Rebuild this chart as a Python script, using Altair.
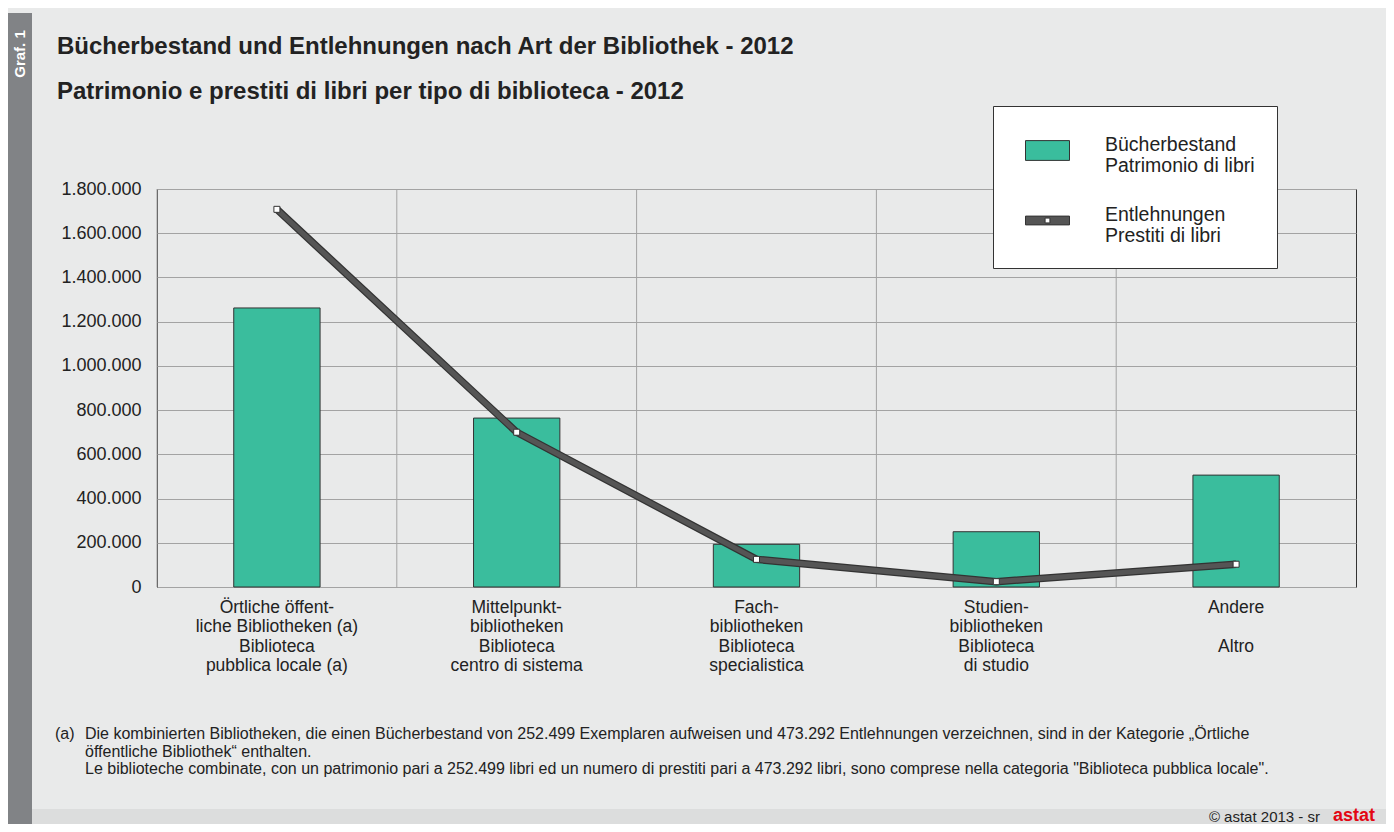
import altair as alt
import pandas as pd

# ---------------- data ----------------
categories = [
    "Örtliche öffent-|liche Bibliotheken (a)|Biblioteca|pubblica locale (a)",
    "Mittelpunkt-|bibliotheken|Biblioteca|centro di sistema",
    "Fach-|bibliotheken|Biblioteca|specialistica",
    "Studien-|bibliotheken|Biblioteca|di studio",
    "Andere|\u200b|Altro",
]
bestand = [1262000, 764000, 193000, 250000, 506000]
entlehnungen = [1708000, 700000, 125000, 24000, 103000]
y_ticks = [0, 200000, 400000, 600000, 800000, 1000000, 1200000, 1400000, 1600000, 1800000]
series_names = ["Bücherbestand|Patrimonio di libri", "Entlehnungen|Prestiti di libri"]

title_de = "Bücherbestand und Entlehnungen nach Art der Bibliothek - 2012"
title_it = "Patrimonio e prestiti di libri per tipo di biblioteca - 2012"
footnote_mark = "(a)"
footnote_lines = [
    "Die kombinierten Bibliotheken, die einen Bücherbestand von 252.499 Exemplaren aufweisen und 473.292 Entlehnungen verzeichnen, sind in der Kategorie „Örtliche",
    "öffentliche Bibliothek“ enthalten.",
    "Le biblioteche combinate, con un patrimonio pari a 252.499 libri ed un numero di prestiti pari a 473.292 libri, sono comprese nella categoria \"Biblioteca pubblica locale\".",
]
graf_label = "Graf. 1"
copyright_text = "©  astat 2013 - sr"
logo_text = "astat"

df = pd.DataFrame({"cat": categories, "bestand": bestand, "entl": entlehnungen})
df_legend = pd.DataFrame({"series": series_names, "v": [0, 0]})

FONT = "Liberation Sans"
TEAL = "#3abd9d"
DARK = "#333333"
LINEGRAY = "#555555"
GRID = "#a3a3a3"

x_scale = alt.Scale(domain=categories, paddingInner=0, paddingOuter=0)
y_scale = alt.Scale(domain=[0, 1800000], nice=False)

x_axis = alt.Axis(
    title=None, ticks=False, grid=False, domain=False, labelAngle=0,
    labelExpr="split(datum.label, '|')", labelFontSize=17.5, labelLineHeight=19.5,
    labelPadding=11, labelColor="#222", labelFont=FONT, labelAlign="center",
)
y_axis = alt.Axis(
    title=None, ticks=False, domain=False, values=y_ticks, grid=True,
    gridColor=GRID, gridWidth=1, labelFontSize=18, labelPadding=16,
    labelColor="#222", labelFont=FONT,
    labelExpr="replace(format(datum.value, ','), regexp(',', 'g'), '.')",
)

X = alt.X("cat:N", scale=x_scale, axis=x_axis, sort=categories)

base = alt.Chart(df)

vgrid = base.mark_rule(color=GRID, strokeWidth=1).encode(
    x=alt.X("cat:N", scale=x_scale, axis=x_axis, sort=categories, bandPosition=0)
)

bars = base.mark_bar(width={"band": 0.36}, fill=TEAL, stroke=DARK, strokeWidth=1).encode(
    x=X, y=alt.Y("bestand:Q", scale=y_scale, axis=y_axis)
)

line_outer = base.mark_line(color=DARK, strokeWidth=7.5, strokeJoin="miter").encode(
    x=X, y=alt.Y("entl:Q", scale=y_scale, axis=y_axis)
)
line_inner = base.mark_line(color=LINEGRAY, strokeWidth=5, strokeJoin="miter").encode(
    x=X, y=alt.Y("entl:Q", scale=y_scale, axis=y_axis)
)
points = base.mark_point(shape="square", filled=True, fill="white", stroke=DARK,
                         strokeWidth=1, size=36, opacity=1).encode(
    x=X, y=alt.Y("entl:Q", scale=y_scale, axis=y_axis)
)

legend_layer = alt.Chart(df_legend).transform_filter("false").mark_point(
    filled=True, stroke=DARK, strokeWidth=1, opacity=1
).encode(
    color=alt.Color(
        "series:N",
        scale=alt.Scale(domain=series_names, range=[TEAL, LINEGRAY]),
        legend=alt.Legend(
            title=None, orient="none", legendX=836, legendY=-83,
            fillColor="white", strokeColor=DARK, padding=22,
            labelExpr="split(datum.label, '|')", labelFontSize=19.5,
            labelFont=FONT, labelColor="#222", symbolOffset=10,
            labelOffset=35, symbolSize=1936, rowPadding=22,
            labelBaseline="alphabetic",
            symbolStrokeColor=DARK, symbolStrokeWidth=1, labelLimit=300,
            symbolOpacity=1,
        ),
    ),
    shape=alt.Shape(
        "series:N",
        scale=alt.Scale(
            domain=series_names,
            range=[
                "M-1,-0.45H1V0.45H-1Z",
                "M-1,-0.2H1V0.2H-1Z M-0.11,-0.11V0.11H0.11V-0.11Z",
            ],
        ),
        legend=None,
    ),
)

one = pd.DataFrame({"k": [0]})

left_strip = alt.Chart(one).mark_rect(color="#818386").encode(
    x=alt.value(-149), x2=alt.value(-125), y=alt.value(-176), y2=alt.value(635)
)
bottom_strip = alt.Chart(one).mark_rect(color="#dcdddd").encode(
    x=alt.value(-125), x2=alt.value(1229), y=alt.value(620), y2=alt.value(635)
)
graf_text = alt.Chart(one).mark_text(
    text=graf_label, angle=270, font=FONT, fontSize=15, fontWeight="bold",
    color="white", align="center", baseline="middle",
).encode(x=alt.value(-137), y=alt.value(-135))

title_text = alt.Chart(one).mark_text(
    text=title_de, font=FONT, fontSize=24, fontWeight="bold", color="#222",
    align="left", baseline="alphabetic",
).encode(x=alt.value(-100), y=alt.value(-135))
subtitle_text = alt.Chart(one).mark_text(
    text=title_it, font=FONT, fontSize=24, fontWeight="bold", color="#222",
    align="left", baseline="alphabetic",
).encode(x=alt.value(-100), y=alt.value(-90))

fn_mark = alt.Chart(one).mark_text(
    text=footnote_mark, font=FONT, fontSize=16, color="#222", align="left", baseline="top",
).encode(x=alt.value(-102), y=alt.value(537))
fn_text = alt.Chart(one).mark_text(
    text=footnote_lines, font=FONT, fontSize=16, color="#222", align="left",
    baseline="top", lineHeight=17.5,
).encode(x=alt.value(-72), y=alt.value(537))

copy_text = alt.Chart(one).mark_text(
    text=copyright_text, font=FONT, fontSize=15, color="#222", align="right",
    baseline="middle",
).encode(x=alt.value(1163), y=alt.value(628))
logo = alt.Chart(one).mark_text(
    text=logo_text, font=FONT, fontSize=18, fontWeight="bold", color="#e30613",
    align="left", baseline="middle",
).encode(x=alt.value(1176), y=alt.value(627))

chart = alt.layer(
    left_strip, bottom_strip, vgrid, bars, line_outer, line_inner, points,
    legend_layer, graf_text, title_text, subtitle_text, fn_mark, fn_text,
    copy_text, logo,
).resolve_scale(
    x="shared", y="shared"
).properties(
    width=1199, height=398,
    autosize=alt.AutoSizeParams(type="none"),
    padding={"left": 149, "top": 181, "right": 30, "bottom": 237},
    background="#e9eaea",
).configure_view(
    fill="white", stroke=DARK, strokeWidth=1
)

chart.save("out.html", embed_options={"renderer": "svg", "actions": False})
